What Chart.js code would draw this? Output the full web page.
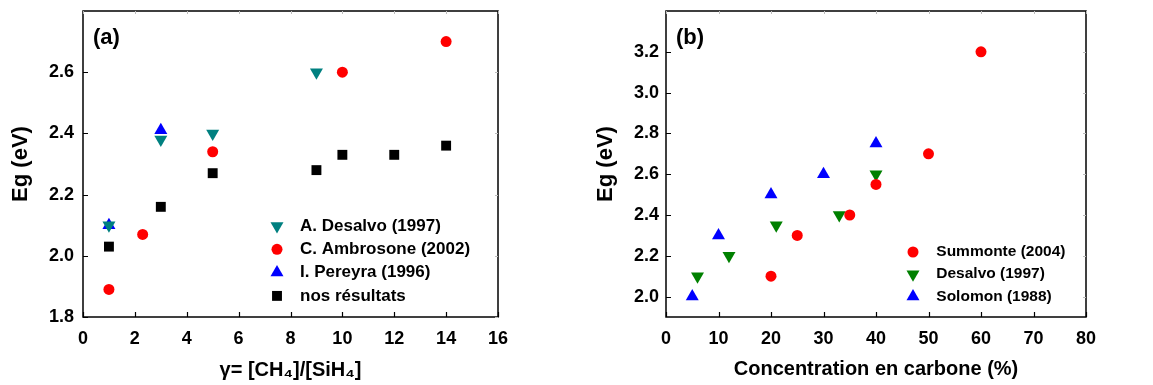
<!DOCTYPE html>
<html>
<head>
<meta charset="utf-8">
<script src="https://cdn.jsdelivr.net/npm/chart.js@4/dist/chart.umd.min.js"></script>
<style>
  body { margin: 0; background: #fff; }
  #wrap { position: relative; width: 1153px; height: 385px; }
  #chartA { position: absolute; left: 0; top: 0; }
  #chartB { position: absolute; left: 580px; top: 0; }
</style>
</head>
<body>
<div id="wrap">
  <canvas id="chartA" width="580" height="385"></canvas>
  <canvas id="chartB" width="573" height="385"></canvas>
</div>
<script>
// ---- panel (a): Eg vs gamma = [CH4]/[SiH4]
const gammaDesalvo = [1, 3, 5, 9];
const egDesalvoA = [2.10, 2.38, 2.40, 2.60];
const gammaAmbrosone = [1, 2.3, 5, 10, 14];
const egAmbrosone = [1.89, 2.07, 2.34, 2.60, 2.70];
const gammaPereyra = [1, 3];
const egPereyra = [2.10, 2.41];
const gammaNos = [1, 3, 5, 9, 10, 12, 14];
const egNos = [2.03, 2.16, 2.27, 2.28, 2.33, 2.33, 2.36];
const yTicksA = [1.8, 2.0, 2.2, 2.4, 2.6];

// ---- panel (b): Eg vs carbon concentration (%)
const concSummonte = [20, 25, 35, 40, 50, 60];
const egSummonte = [2.10, 2.30, 2.40, 2.55, 2.70, 3.20];
const concDesalvo = [6, 12, 21, 33, 40];
const egDesalvoB = [2.10, 2.20, 2.35, 2.40, 2.60];
const concSolomon = [5, 10, 20, 30, 40];
const egSolomon = [2.00, 2.30, 2.50, 2.60, 2.75];
const yTicksB = [2.0, 2.2, 2.4, 2.6, 2.8, 3.0, 3.2];

const FONT = '"Liberation Sans", Arial, sans-serif';

function pts(xs, ys) {
  return xs.map((x, i) => ({ x: x, y: ys[i] }));
}

function series(label, xs, ys, color, style, radius, rotation) {
  return {
    label: label,
    data: pts(xs, ys),
    backgroundColor: color,
    borderWidth: 0,
    pointStyle: style,
    pointRadius: radius,
    pointHoverRadius: radius,
    pointRotation: rotation || 0
  };
}

function drawMarker(ctx, ds, x, y) {
  const r = ds.pointRadius;
  ctx.fillStyle = ds.backgroundColor;
  ctx.beginPath();
  if (ds.pointStyle === 'circle') {
    ctx.arc(x, y, r, 0, Math.PI * 2);
  } else if (ds.pointStyle === 'rect') {
    const s = r * Math.SQRT1_2;
    ctx.rect(x - s, y - s, 2 * s, 2 * s);
  } else {
    const d = ds.pointRotation === 180 ? -1 : 1;
    ctx.moveTo(x, y - d * r);
    ctx.lineTo(x + r * 0.866, y + d * r / 2);
    ctx.lineTo(x - r * 0.866, y + d * r / 2);
    ctx.closePath();
  }
  ctx.fill();
}

// frame, inward ticks, panel letter and legend
const framePlugin = {
  id: 'frame',
  afterDraw(chart, args, opts) {
    const { ctx, chartArea: a, scales: { x, y } } = chart;
    ctx.save();
    ctx.strokeStyle = '#000';
    ctx.lineWidth = 1.5;
    ctx.strokeRect(a.left, a.top, a.right - a.left, a.bottom - a.top);

    ctx.lineWidth = 1.2;
    ctx.beginPath();
    x.ticks.forEach(t => {
      const px = Math.round(x.getPixelForValue(t.value)) + 0.5;
      ctx.moveTo(px, a.bottom);
      ctx.lineTo(px, a.bottom - 5);
    });
    y.ticks.forEach(t => {
      const py = Math.round(y.getPixelForValue(t.value)) + 0.5;
      ctx.moveTo(a.left, py);
      ctx.lineTo(a.left + 5, py);
    });
    ctx.stroke();

    ctx.strokeStyle = '#bbb';
    ctx.lineWidth = 1;
    ctx.beginPath();
    x.ticks.forEach(t => {
      const px = Math.round(x.getPixelForValue(t.value)) + 0.5;
      ctx.moveTo(px, a.top);
      ctx.lineTo(px, a.top + 3);
    });
    y.ticks.forEach(t => {
      const py = Math.round(y.getPixelForValue(t.value)) + 0.5;
      ctx.moveTo(a.right, py);
      ctx.lineTo(a.right - 3, py);
    });
    ctx.stroke();

    ctx.fillStyle = '#000';
    ctx.textBaseline = 'middle';
    ctx.textAlign = 'left';
    ctx.font = 'bold 22px ' + FONT;
    ctx.fillText(opts.letter, a.left + 10, a.top + 27);

    ctx.font = 'bold ' + opts.legendSize + 'px ' + FONT;
    chart.data.datasets.forEach((ds, i) => {
      const ly = a.top + opts.legendTop + i * opts.legendGap;
      const lx = a.left + opts.legendLeft;
      drawMarker(ctx, ds, lx, ly);
      ctx.fillStyle = '#000';
      ctx.fillText(ds.label, lx + opts.legendText, ly);
    });
    ctx.restore();
  }
};

function tickFont(size) {
  return { family: FONT, size: size, weight: 'bold' };
}

function makeOptions(cfg) {
  return {
    responsive: false,
    animation: false,
    layout: { padding: { left: 0, top: 11, right: cfg.padRight, bottom: 0 } },
    plugins: {
      legend: { display: false },
      tooltip: { enabled: false },
      frame: cfg.frame
    },
    scales: {
      x: {
        type: 'linear',
        min: cfg.xMin,
        max: cfg.xMax,
        grid: { display: false, drawTicks: false },
        border: { display: false },
        ticks: { stepSize: cfg.xStep, color: '#000', font: tickFont(cfg.tickSize), padding: 11 },
        title: {
          display: true,
          text: cfg.xTitle,
          color: '#000',
          font: { family: FONT, size: 20, weight: 'bold' },
          padding: { top: 0, bottom: cfg.xTitlePad }
        },
        afterFit: s => { s.height = 68; s.paddingLeft = 0; s.paddingRight = 0; }
      },
      y: {
        type: 'linear',
        min: cfg.yMin,
        max: cfg.yMax,
        grid: { display: false, drawTicks: false },
        border: { display: false },
        afterBuildTicks: s => { s.ticks = cfg.yTicks.map(v => ({ value: v })); },
        ticks: {
          color: '#000',
          font: tickFont(cfg.tickSize),
          padding: cfg.yTickPad,
          callback: v => Number(v).toFixed(1)
        },
        title: {
          display: true,
          text: 'Eg (eV)',
          color: '#000',
          font: { family: FONT, size: 22, weight: 'bold' },
          padding: { top: cfg.yTitlePad, bottom: 0 }
        },
        afterFit: s => { s.width = cfg.yWidth; s.paddingTop = 0; s.paddingBottom = 0; }
      }
    }
  };
}

new Chart(document.getElementById('chartA'), {
  type: 'scatter',
  data: {
    datasets: [
      series('A. Desalvo (1997)', gammaDesalvo, egDesalvoA, 'rgb(0,128,128)', 'triangle', 7.5, 180),
      series('C. Ambrosone (2002)', gammaAmbrosone, egAmbrosone, 'rgb(255,0,0)', 'circle', 5.5),
      series('I. Pereyra (1996)', gammaPereyra, egPereyra, 'rgb(0,0,255)', 'triangle', 7.5),
      series('nos résultats', gammaNos, egNos, 'rgb(0,0,0)', 'rect', 7)
    ]
  },
  options: makeOptions({
    padRight: 82, xMin: 0, xMax: 16, xStep: 2, tickSize: 18,
    xTitle: 'γ= [CH₄]/[SiH₄]', xTitlePad: 3,
    yMin: 1.8, yMax: 2.8, yTicks: yTicksA, yTickPad: 9, yTitlePad: 8, yWidth: 83,
    frame: { letter: '(a)', legendSize: 17, legendLeft: 194, legendTop: 215, legendGap: 23.3, legendText: 23 }
  }),
  plugins: [framePlugin]
});

new Chart(document.getElementById('chartB'), {
  type: 'scatter',
  data: {
    datasets: [
      series('Summonte (2004)', concSummonte, egSummonte, 'rgb(255,0,0)', 'circle', 5.5),
      series('Desalvo (1997)', concDesalvo, egDesalvoB, 'rgb(0,128,0)', 'triangle', 7.5, 180),
      series('Solomon (1988)', concSolomon, egSolomon, 'rgb(0,0,255)', 'triangle', 7.5)
    ]
  },
  options: makeOptions({
    padRight: 67, xMin: 0, xMax: 80, xStep: 10, tickSize: 18,
    xTitle: 'Concentration en carbone (%)', xTitlePad: 4,
    yMin: 1.9, yMax: 3.4, yTicks: yTicksB, yTickPad: 7, yTitlePad: 13, yWidth: 86,
    frame: { letter: '(b)', legendSize: 15.5, legendLeft: 247, legendTop: 241, legendGap: 22.2, legendText: 23.3 }
  }),
  plugins: [framePlugin]
});
</script>
</body>
</html>
